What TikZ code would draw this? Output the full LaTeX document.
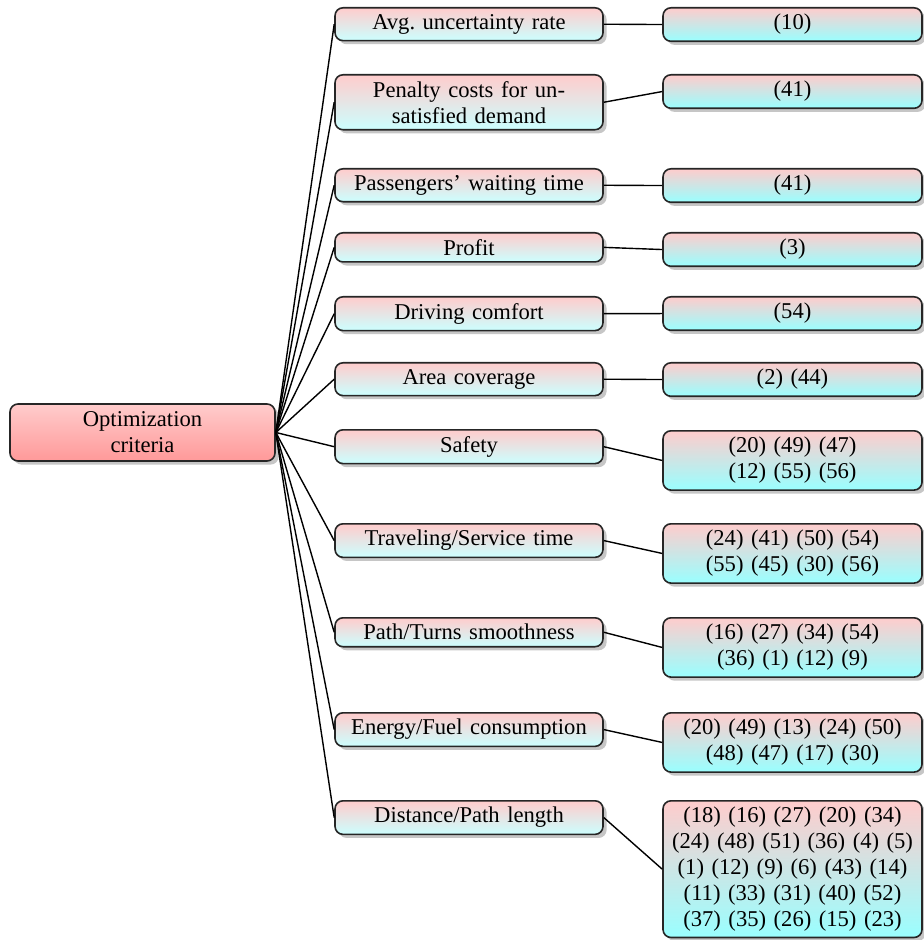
\documentclass[tikz,border=0pt]{standalone}
\usepackage{fontspec}
\setmainfont{Liberation Serif}
\usetikzlibrary{shadows}
\tikzset{
  base/.style={draw=black!85, line width=0.8pt, rounded corners=4pt, inner xsep=1pt, inner ysep=3.25pt,
    align=center, font=\frenchspacing\fontsize{11.3}{12.9}\selectfont, anchor=north,
    drop shadow={shadow xshift=1.8pt, shadow yshift=-1.8pt, opacity=0.45}},
  rootbox/.style={base, anchor=center, top color=red!20, bottom color=red!40,
    minimum width=132.5pt, text width=130pt, minimum height=28.5pt},
  midbox/.style={base, top color=red!20, bottom color=cyan!20,
    minimum width=134pt, text width=131.5pt},
  refbox/.style={base, top color=red!20, bottom color=cyan!40,
    minimum width=129.5pt, text width=127pt},
  conn/.style={line width=0.7pt, black}
}
\begin{document}
\begin{tikzpicture}[x=0.5pt, y=-0.5pt]
\useasboundingbox (0,0) rectangle (923,940);
\node[rootbox] (root) at (142.5,432.5) {Optimization\\criteria};

\node[midbox] (m1) at (469,7) {Avg. uncertainty rate};
\node[midbox] (m2) at (469,74) {Penalty costs for un-\\satisfied demand};
\node[midbox] (m3) at (469,168) {Passengers' waiting time};
\node[midbox] (m4) at (469,232) {Profit};
\node[midbox] (m5) at (469,296) {Driving comfort};
\node[midbox] (m6) at (469,362) {Area coverage};
\node[midbox] (m7) at (469,429) {Safety};
\node[midbox] (m8) at (469,523) {Traveling/Service time};
\node[midbox] (m9) at (469,617) {Path/Turns smoothness};
\node[midbox] (m10) at (469,712) {Energy/Fuel consumption};
\node[midbox] (m11) at (469,800) {Distance/Path length};

\node[refbox] (r1) at (792.5,7) {(10)};
\node[refbox] (r2) at (792.5,74) {(41)};
\node[refbox] (r3) at (792.5,168) {(41)};
\node[refbox] (r4) at (792.5,232) {(3)};
\node[refbox] (r5) at (792.5,296) {(54)};
\node[refbox] (r6) at (792.5,362) {(2) (44)};
\node[refbox] (r7) at (792.5,430) {(20) (49) (47)\\(12) (55) (56)};
\node[refbox] (r8) at (792.5,523) {(24) (41) (50) (54)\\(55) (45) (30) (56)};
\node[refbox] (r9) at (792.5,617) {(16) (27) (34) (54)\\(36) (1) (12) (9)};
\node[refbox] (r10) at (792.5,712) {(20) (49) (13) (24) (50)\\(48) (47) (17) (30)};
\node[refbox] (r11) at (792.5,800) {(18) (16) (27) (20) (34)\\(24) (48) (51) (36) (4) (5)\\(1) (12) (9) (6) (43) (14)\\(11) (33) (31) (40) (52)\\(37) (35) (26) (15) (23)};

\foreach \i in {1,...,11} {
  \draw[conn] (root.east) -- (m\i.west);
  \draw[conn] (m\i.east) -- (r\i.west);
}
\end{tikzpicture}
\end{document}
